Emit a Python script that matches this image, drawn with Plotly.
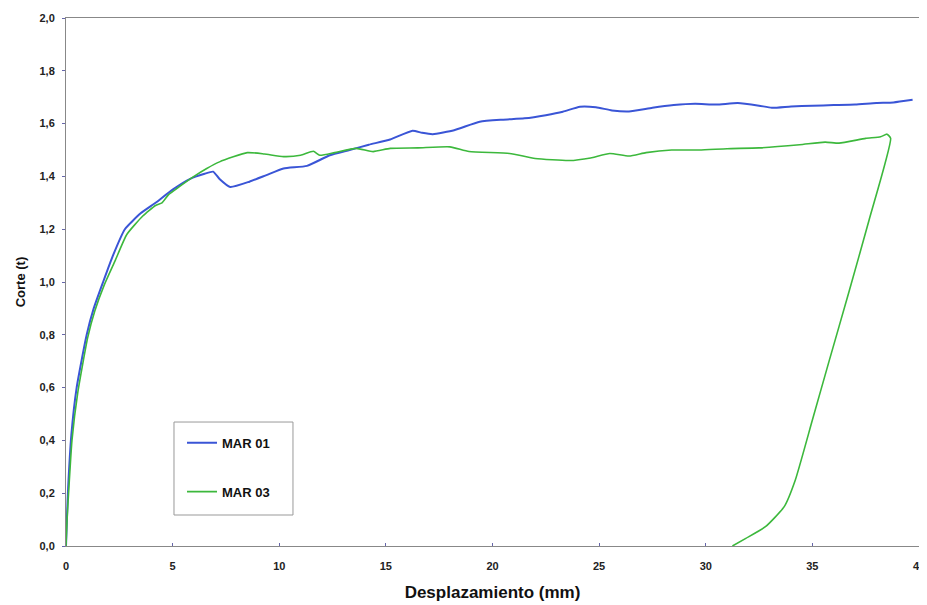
import plotly.graph_objects as go

# MAR 01 (blue)
x_mar01 = [0, 0.05, 0.1, 0.25, 0.5, 0.97, 1.3, 1.74, 2.2, 2.76, 3.5, 4.2, 5.0, 5.8, 6.5, 6.9, 7.2, 7.7,
           8.6, 9.4, 10.2, 11.3, 12.37, 13.3, 14.2, 15.2, 16.25, 16.7, 17.2, 18.2, 19.4, 20.5, 21.5,
           22.5, 23.3, 24.1, 24.85, 25.6, 26.4, 27.5, 28.5, 29.5, 30.5, 31.5, 32.5, 33.1, 34.0, 35.0,
           36.0, 37.0, 38.0, 38.8, 39.7]
y_mar01 = [0, 0.12, 0.22, 0.42, 0.6, 0.8, 0.9, 1.0, 1.1, 1.2, 1.26, 1.3, 1.35, 1.39, 1.41, 1.418, 1.39, 1.36,
           1.38, 1.405, 1.43, 1.44, 1.48, 1.5, 1.52, 1.54, 1.573, 1.565, 1.56, 1.575, 1.607, 1.615, 1.62,
           1.632, 1.645, 1.664, 1.662, 1.65, 1.646, 1.66, 1.67, 1.675, 1.672, 1.678, 1.668, 1.66, 1.665, 1.668,
           1.67, 1.672, 1.678, 1.68, 1.69]

# MAR 03 (green)
x_mar03 = [0, 0.05, 0.12, 0.28, 0.55, 1.02, 1.35, 1.8, 2.3, 2.85, 3.6, 4.2, 4.5, 4.8, 5.3, 6.0, 6.6,
           7.2, 8.5, 9.3, 10.2, 11.0, 11.6, 11.9, 12.6, 13.6, 14.4, 15.2, 16.5, 18.0, 18.9, 20.8,
           22.0, 23.6, 24.6, 25.5, 26.4, 27.2, 28.4, 29.7, 31.0, 32.5, 34.4, 35.6, 36.25, 37.5, 38.2,
           38.5, 38.67, 37.66, 36.7, 35.8, 35.0, 34.2, 33.68, 32.8, 31.88, 31.25]
y_mar03 = [0, 0.1, 0.2, 0.4, 0.58, 0.79, 0.89, 0.99, 1.08, 1.18, 1.25, 1.29, 1.3, 1.33, 1.36, 1.4, 1.43,
           1.455, 1.49, 1.485, 1.475, 1.48, 1.495, 1.48, 1.49, 1.506, 1.494, 1.506, 1.508, 1.512, 1.494, 1.487,
           1.468, 1.46, 1.47, 1.487, 1.477, 1.49, 1.5, 1.5, 1.505, 1.508, 1.52, 1.53, 1.526, 1.544, 1.55,
           1.56, 1.544, 1.235, 0.958, 0.705, 0.477, 0.25, 0.149, 0.073, 0.029, 0]

x_ticks = [0, 5, 10, 15, 20, 25, 30, 35, 40]
y_ticks = [0.0, 0.2, 0.4, 0.6, 0.8, 1.0, 1.2, 1.4, 1.6, 1.8, 2.0]

fig = go.Figure()
fig.add_trace(go.Scatter(x=x_mar01, y=y_mar01, mode="lines", name="MAR 01", legendgroup="a",
                         line=dict(color="#3a55d6", width=2, shape="spline", smoothing=0.5)))
fig.add_trace(go.Scatter(x=x_mar03, y=y_mar03, mode="lines", name="MAR 03", legendgroup="b",
                         line=dict(color="#3cb83c", width=1.6, shape="spline", smoothing=0.5)))

font_family = "Liberation Sans, Arial, sans-serif"
tick_font = dict(family=font_family, size=11, color="#222222", weight="bold")
fig.update_layout(
    width=927, height=597,
    margin=dict(l=58, r=16, t=10, b=59),
    paper_bgcolor="white", plot_bgcolor="white",
    separators=",.",
    font=dict(family=font_family, size=10, color="#111111"),
    showlegend=True,
    legend=dict(x=0.136, y=0.224, xanchor="left", yanchor="top",
                bgcolor="rgba(0,0,0,0)", borderwidth=0,
                font=dict(family=font_family, size=13, color="#111111", weight="bold"),
                tracegroupgap=29),
    shapes=[dict(type="rect", xref="paper", yref="paper",
                 x0=0.1266, x1=0.2661, y0=0.0587, y1=0.2348,
                 line=dict(color="#999999", width=1), fillcolor="rgba(0,0,0,0)", layer="above")],
    xaxis=dict(range=[0, 40], tickvals=x_ticks, ticktext=[str(v) for v in x_ticks], automargin=False,
               showgrid=False, zeroline=False, showline=True, linecolor="#888888", linewidth=1,
               mirror=True, ticks="inside", ticklen=3, tickcolor="#6666aa",
               tickfont=tick_font, ticklabelstandoff=10,
               title=dict(text="<b>Desplazamiento (mm)</b>", font=dict(size=17, family=font_family, color="#111111"), standoff=14)),
    yaxis=dict(range=[0, 2.0], tickvals=y_ticks, tickformat=".1f", automargin=False,
               showgrid=False, zeroline=False, showline=True, linecolor="#888888", linewidth=1,
               mirror=True, ticks="outside", ticklen=3, tickcolor="#6666aa",
               tickfont=tick_font, ticklabelstandoff=5,
               title=dict(text="<b>Corte (t)</b>", font=dict(size=13, family=font_family, color="#111111"), standoff=10)),
)

fig.write_html("out.html")
